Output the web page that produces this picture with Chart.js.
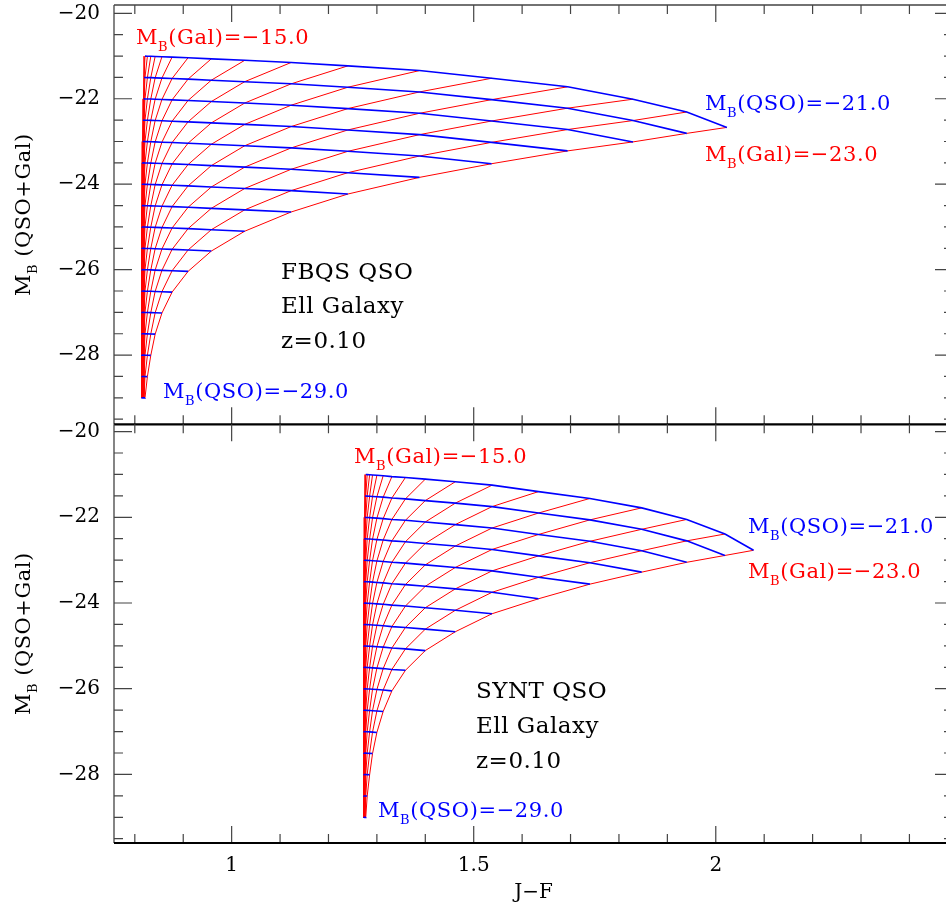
<!DOCTYPE html>
<html>
<head>
<meta charset="utf-8">
<script src="https://cdn.jsdelivr.net/npm/chart.js@4.4.0/dist/chart.umd.min.js"></script>
<style>
  html, body { margin: 0; padding: 0; background: #fff; overflow: hidden; }
  #wrap { position: relative; width: 946px; height: 913px; overflow: hidden; }
  canvas { position: absolute; left: 0; top: 0; }
</style>
</head>
<body>
<div id="wrap">
  <canvas id="topChart" width="960" height="913"></canvas>
  <canvas id="botChart" width="960" height="913"></canvas>
</div>
<script>
// grid of QSO + host galaxy mixtures
const qsoMags = [-21.0, -21.5, -22.0, -22.5, -23.0, -23.5, -24.0, -24.5, -25.0, -25.5, -26.0, -26.5, -27.0, -27.5, -28.0, -28.5, -29.0];
const galMags = [-15.0, -15.5, -16.0, -16.5, -17.0, -17.5, -18.0, -18.5, -19.0, -19.5, -20.0, -20.5, -21.0, -21.5, -22.0, -22.5, -23.0];

// M_B(Gal) - M_B(QSO)
const magDiff = [-2, -1.5, -1, -0.5, 0, 0.5, 1, 1.5, 2, 2.5, 3, 3.5, 4, 4.5, 5, 5.5, 6,
  6.5, 7, 7.5, 8, 8.5, 9, 9.5, 10, 10.5, 11, 11.5, 12, 12.5, 13, 13.5, 14];

// J-F colour of the mixture (FBQS QSO panel)
const jfFbqs = [2.023, 1.940, 1.829, 1.694, 1.537, 1.388, 1.240, 1.123, 1.027, 0.958, 0.910, 0.877, 0.856, 0.842, 0.833, 0.826, 0.821,
  0.819, 0.818, 0.817, 0.816, 0.8155, 0.815, 0.8148, 0.8146, 0.8145, 0.8144, 0.8143, 0.8143, 0.8142, 0.8142, 0.8142, 0.8141];
// M_B(QSO+Gal) - M_B(QSO)
const dmFbqs = [-1.67, -1.31, -1.01, -0.72, -0.52, -0.34, -0.23, -0.15, -0.10, -0.065, -0.04, -0.025, -0.016, -0.010, -0.006, -0.004, -0.0025,
  -0.0016, -0.001, -0.0006, -0.0004, -0.0003, -0.0002, -0.0001, 0, 0, 0, 0, 0, 0, 0, 0, 0];

// SYNT QSO panel
const jfSynt = [2.078, 2.019, 1.940, 1.847, 1.740, 1.634, 1.538, 1.462, 1.400, 1.359, 1.331, 1.313, 1.300, 1.291, 1.285, 1.280, 1.277,
  1.2755, 1.2748, 1.2742, 1.2738, 1.2735, 1.2733, 1.2732, 1.2731, 1.2731, 1.2730, 1.2730, 1.2730, 1.2730, 1.2730, 1.2730, 1.2730];
const dmSynt = [-1.77, -1.39, -1.05, -0.78, -0.56, -0.40, -0.25, -0.17, -0.11, -0.07, -0.05, -0.03, -0.02, -0.013, -0.008, -0.005, -0.003,
  -0.002, -0.0012, -0.0008, -0.0005, -0.0003, -0.0002, -0.0001, 0, 0, 0, 0, 0, 0, 0, 0, 0];

const xLabelTicks = [1, 1.5, 2];
const yLabelTicks = [-20, -22, -24, -26, -28];

const FONT = '"DejaVu Serif", "Liberation Serif", serif';
const RED = "#ff0000";
const BLUE = "#0000ff";

function gridPoint(q, g, jf, dm) {
  const i = magDiff.indexOf(g - q);
  return { x: jf[i], y: q + dm[i] };
}

function buildDatasets(jf, dm) {
  const sets = [];
  galMags.forEach((g) => {
    sets.push({
      data: qsoMags.map((q) => gridPoint(q, g, jf, dm)),
      borderColor: RED, borderWidth: 1, order: 2,
    });
  });
  qsoMags.forEach((q) => {
    sets.push({
      data: galMags.map((g) => gridPoint(q, g, jf, dm)),
      borderColor: BLUE, borderWidth: 1.6, order: 1,
    });
  });
  return sets.map((s) => ({ ...s, showLine: true, pointRadius: 0, tension: 0, fill: false }));
}

function mb(rest, size) {
  return [
    { t: "M", size: size },
    { t: "B", size: Math.round(size * 0.62), sub: 7 },
    { t: rest, size: size },
  ];
}

function drawRich(ctx, parts, x, y, spacing) {
  let cx = x;
  ctx.letterSpacing = (spacing || 0) + "px";
  parts.forEach((p) => {
    ctx.font = `${p.size}px ${FONT}`;
    ctx.fillText(p.t, cx, y + (p.sub || 0));
    cx += ctx.measureText(p.t).width;
  });
  ctx.letterSpacing = "0px";
  return cx - x;
}

function richWidth(ctx, parts, spacing) {
  let w = 0;
  ctx.letterSpacing = (spacing || 0) + "px";
  parts.forEach((p) => {
    ctx.font = `${p.size}px ${FONT}`;
    w += ctx.measureText(p.t).width;
  });
  ctx.letterSpacing = "0px";
  return w;
}

const framePlugin = {
  id: "frame",
  afterDraw(chart, args, opts) {
    const { ctx, chartArea: a } = chart;
    const x = chart.scales.x;
    const y = chart.scales.y;
    ctx.save();

    // inward ticks on all sides
    ctx.strokeStyle = "#444";
    ctx.lineWidth = 1.2;
    ctx.beginPath();
    for (let i = 8; i <= 24; i++) {
      const px = x.getPixelForValue(i / 10);
      const len = i % 5 === 0 ? 17 : 9;
      ctx.moveTo(px, a.top); ctx.lineTo(px, a.top + len);
      ctx.moveTo(px, a.bottom); ctx.lineTo(px, a.bottom - len);
    }
    for (let i = 40; i <= 59; i++) {
      const v = -i / 2;
      if (v > y.max || v < y.min) continue;
      const py = y.getPixelForValue(v);
      const len = i % 4 === 0 ? 18 : 9;
      ctx.moveTo(a.left, py); ctx.lineTo(a.left + len, py);
      ctx.moveTo(a.right, py); ctx.lineTo(a.right - len, py);
    }
    ctx.stroke();

    // frame
    ctx.lineWidth = 1.3;
    ctx.beginPath();
    ctx.moveTo(a.left, a.top); ctx.lineTo(a.left, a.bottom);
    ctx.moveTo(a.right, a.top); ctx.lineTo(a.right, a.bottom);
    if (opts.topLine) { ctx.moveTo(a.left, a.top); ctx.lineTo(a.right, a.top); }
    ctx.stroke();
    ctx.strokeStyle = "#000";
    ctx.lineWidth = 2.2;
    ctx.beginPath();
    ctx.moveTo(a.left, a.bottom); ctx.lineTo(a.right, a.bottom);
    ctx.stroke();

    // text labels
    ctx.textBaseline = "alphabetic";
    ctx.textAlign = "left";
    opts.labels.forEach((l) => {
      ctx.fillStyle = l.color;
      drawRich(ctx, l.parts, l.x, l.y, l.spacing);
    });

    // y axis title with subscript
    const title = mb(" (QSO+Gal)", 21);
    const w = richWidth(ctx, title, 0.5);
    ctx.translate(opts.titleX, (a.top + a.bottom) / 2 + w / 2);
    ctx.rotate(-Math.PI / 2);
    ctx.fillStyle = "#000";
    drawRich(ctx, title, 0, 0, 0.5);
    ctx.restore();
  },
};

function makeChart(id, jf, dm, yMin, yMax, bottom, labels) {
  const ctx = document.getElementById(id).getContext("2d");
  return new Chart(ctx, {
    type: "scatter",
    data: { datasets: buildDatasets(jf, dm) },
    options: {
      responsive: false,
      animation: false,
      layout: { padding: bottom ? { top: 424.3, right: 7, left: 0, bottom: 0 } : { top: 5, right: 7, left: 0, bottom: 488.7 } },
      plugins: {
        legend: { display: false },
        tooltip: { enabled: false },
        frame: { labels: labels, topLine: !bottom, titleX: 30 },
      },
      scales: {
        x: {
          type: "linear",
          min: 0.757,
          max: 2.49,
          display: bottom,
          afterFit(s) {
            s.height = bottom ? 70 : 0;
            s.paddingLeft = 0;
            s.paddingRight = 0;
          },
          afterBuildTicks(s) { s.ticks = xLabelTicks.map((v) => ({ value: v })); },
          ticks: {
            font: { family: FONT, size: 20 }, color: "#000", padding: 11, maxRotation: 0, autoSkip: false,
            callback: (v) => String(v),
          },
          grid: { display: false, drawTicks: false },
          border: { display: false },
          title: { display: true, text: "J\u2212F", font: { family: FONT, size: 20 }, color: "#000", padding: { top: 0, bottom: 8 } },
        },
        y: {
          type: "linear",
          min: yMin,
          max: yMax,
          afterFit(s) {
            s.width = 114;
            s.paddingTop = 0;
            s.paddingBottom = 0;
          },
          afterBuildTicks(s) { s.ticks = yLabelTicks.map((v) => ({ value: v })); },
          ticks: {
            font: { family: FONT, size: 20 }, color: "#000", padding: 14,
            callback: (v) => "\u2212" + Math.abs(v),
          },
          grid: { display: false, drawTicks: false },
          border: { display: false },
        },
      },
    },
    plugins: [framePlugin],
  });
}

const topLabels = [
  { parts: mb("(Gal)=\u221215.0", 21), x: 136, y: 43.5, color: RED, spacing: 0.6 },
  { parts: mb("(QSO)=\u221221.0", 21), x: 705, y: 109.5, color: BLUE, spacing: 0.6 },
  { parts: mb("(Gal)=\u221223.0", 21), x: 705, y: 160.5, color: RED, spacing: 0.6 },
  { parts: mb("(QSO)=\u221229.0", 21), x: 163, y: 398, color: BLUE, spacing: 0.6 },
  { parts: [{ t: "FBQS QSO", size: 23 }], x: 281, y: 279, color: "#000", spacing: 0.5 },
  { parts: [{ t: "Ell Galaxy", size: 23 }], x: 281, y: 312.5, color: "#000", spacing: 0.5 },
  { parts: [{ t: "z=0.10", size: 23 }], x: 281, y: 347.5, color: "#000", spacing: 0.5 },
];

const botLabels = [
  { parts: mb("(Gal)=\u221215.0", 21), x: 354, y: 463, color: RED, spacing: 0.6 },
  { parts: mb("(QSO)=\u221221.0", 21), x: 748, y: 532.5, color: BLUE, spacing: 0.6 },
  { parts: mb("(Gal)=\u221223.0", 21), x: 748, y: 578, color: RED, spacing: 0.6 },
  { parts: mb("(QSO)=\u221229.0", 21), x: 378, y: 817, color: BLUE, spacing: 0.6 },
  { parts: [{ t: "SYNT QSO", size: 23 }], x: 476, y: 698, color: "#000", spacing: 0.5 },
  { parts: [{ t: "Ell Galaxy", size: 23 }], x: 476, y: 732.5, color: "#000", spacing: 0.5 },
  { parts: [{ t: "z=0.10", size: 23 }], x: 476, y: 767.5, color: "#000", spacing: 0.5 },
];

makeChart("topChart", jfFbqs, dmFbqs, -29.62, -19.805, false, topLabels);
makeChart("botChart", jfSynt, dmSynt, -29.6, -19.83, true, botLabels);
</script>
</body>
</html>
